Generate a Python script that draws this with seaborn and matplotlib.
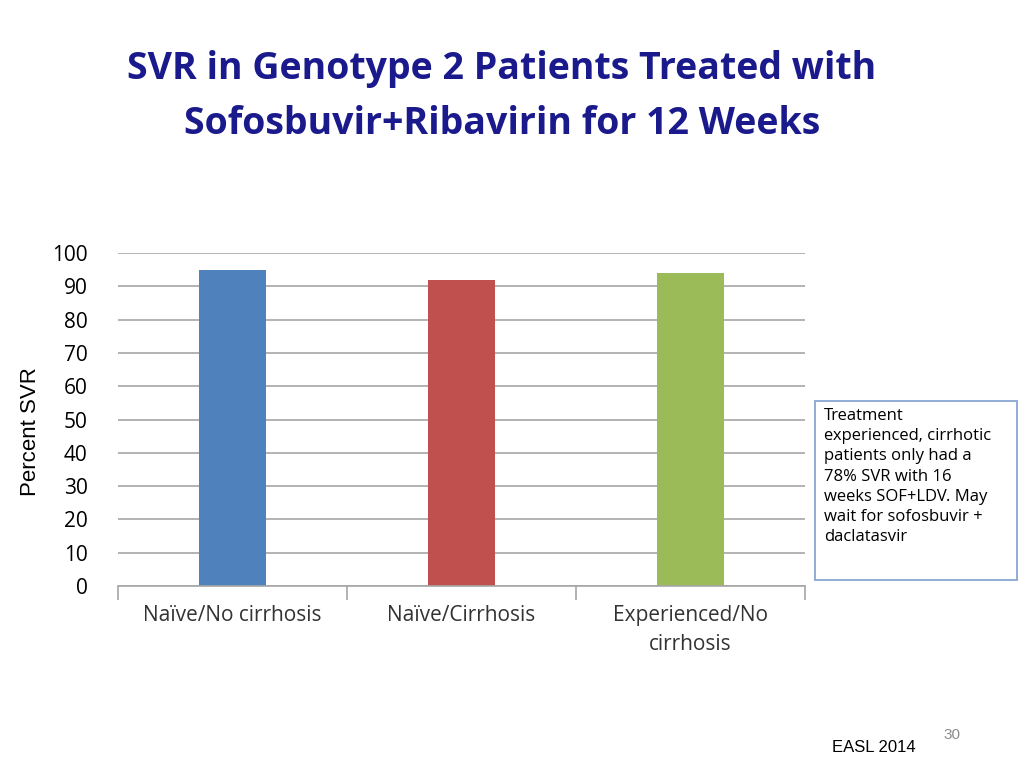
import matplotlib
matplotlib.use("Agg")
import matplotlib.pyplot as plt
import seaborn as sns
import pandas as pd
from matplotlib.patches import Rectangle

categories = ["Naïve/No cirrhosis", "Naïve/Cirrhosis", "Experienced/No\ncirrhosis"]
values = [95, 92, 94]
colors = ["#4F81BD", "#C0504D", "#9BBB59"]
yticks = list(range(0, 101, 10))

df = pd.DataFrame({"cat": categories, "val": values})
fig = plt.figure(figsize=(10.24, 7.68), dpi=100)
ax = fig.add_axes([118/1024, 1-586/768, (805-118)/1024, (586-253)/768])
sns.barplot(data=df, x="cat", y="val", hue="cat", palette=colors, width=0.29,
            legend=False, ax=ax, saturation=1)
ax.set_ylim(0, 100)
ax.set_xlim(-0.5, 2.5)
ax.set_yticks(yticks)
ax.yaxis.grid(True, color="#a6a6a6", lw=1.2)
ax.set_axisbelow(True)
for s in ["top", "right", "left"]:
    ax.spines[s].set_visible(False)
ax.spines["bottom"].set_color("#a6a6a6")
ax.spines["bottom"].set_linewidth(1.2)
ax.tick_params(axis="y", length=0, labelsize=15, pad=22)
ax.set_xticks([0, 1, 2])
ax.set_xticklabels(categories, fontsize=15, color="#333333", fontname="Open Sans", linespacing=1.5)
ax.set_xticks([-0.5, 0.5, 1.5, 2.5], minor=True)
ax.tick_params(axis="x", which="major", length=0, pad=14)
ax.tick_params(axis="x", which="minor", length=10, color="#a6a6a6", width=1.2)
for lab in ax.get_yticklabels():
    lab.set_fontname("Open Sans")
ax.set_xlabel("")
ax.set_ylabel("")

fig.text(0.49, 0.91, "SVR in Genotype 2 Patients Treated with", ha="center", va="center",
         fontsize=27, fontweight="bold", color="#1A1A8C", fontname="Open Sans")
fig.text(0.49, 0.838, "Sofosbuvir+Ribavirin for 12 Weeks", ha="center", va="center",
         fontsize=27, fontweight="bold", color="#1A1A8C", fontname="Open Sans")
fig.text(30/1024, 1-432/768, "Percent SVR", rotation=90, ha="center", va="center",
         fontsize=16, fontname="Liberation Sans")

fig.patches.append(Rectangle((815/1024, 1-580/768), 202/1024, 179/768,
                             transform=fig.transFigure, fill=False, ec="#7f9fcf", lw=1.2))
fig.text(824/1024, 1-408/768,
         "Treatment\nexperienced, cirrhotic\npatients only had a\n78% SVR with 16\nweeks SOF+LDV. May\nwait for sofosbuvir +\ndaclatasvir",
         ha="left", va="top", fontsize=12, fontname="Open Sans", linespacing=1.35)
fig.text(952/1024, 1-735/768, "30", ha="center", va="center", fontsize=11, color="#8c8c8c",
         fontname="Liberation Sans")
fig.text(874/1024, 1-748/768, "EASL 2014", ha="center", va="center", fontsize=12,
         fontname="Liberation Sans")
fig.savefig("out.png", dpi=100)
